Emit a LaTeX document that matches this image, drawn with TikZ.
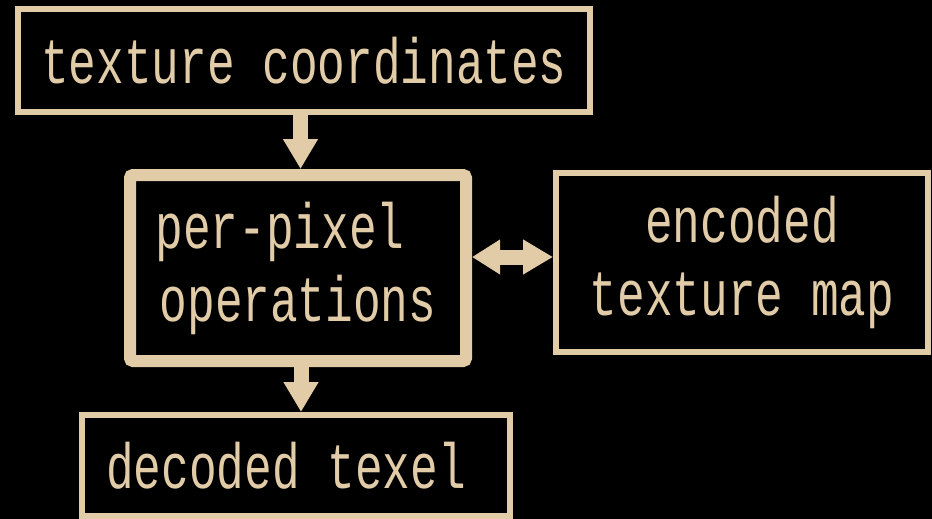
\documentclass[tikz,border=0pt]{standalone}
\usepackage{fontspec}
\newfontfamily\lblfont[FakeStretch=0.72]{Liberation Mono}
\usetikzlibrary{arrows.meta}
\definecolor{beige}{HTML}{E2CCA8}
\tikzset{
  box/.style={draw=beige, line width=6pt, fill=black, text=beige, inner sep=0pt,
    font=\lblfont\fontsize{64}{73}\selectfont, align=center},
  bigbox/.style={box, line width=12pt, rounded corners=3pt},
  flow/.style={draw=beige, line width=15pt,
    -{Triangle[width=33pt 0 0, length=30pt 0 0]}},
  dflow/.style={draw=beige, line width=15pt,
    {Triangle[width=33pt 0 0, length=28pt 0 0]}-{Triangle[width=33pt 0 0, length=30pt 0 0]}}
}
\begin{document}
\begin{tikzpicture}[x=1pt, y=-1pt]
  \fill[black] (0,0) rectangle (932,519);
  \useasboundingbox (0,0) rectangle (932,519);
  \node[box, minimum width=572pt, minimum height=103pt] (tc) at (304,60.5) {\raisebox{-3pt}{texture coordinates}};
  \node[bigbox, minimum width=336pt, minimum height=186pt] (pp) at (298,268) {per-pixel\hspace*{36pt}\\operations};
  \node[box, minimum width=372pt, minimum height=179pt] (em) at (742,262.5) {encoded\\texture map};
  \node[box, minimum width=428pt, minimum height=101pt] (dt) at (296,465.5) {decoded texel\hspace*{20pt}};
  \draw[flow] (tc.south -| 300.5,0) -- (pp.north -| 300.5,0);
  \draw[flow] (pp.south -| 301,0) -- (dt.north -| 301,0);
  \draw[dflow] (pp.east |- 0,257) -- (em.west |- 0,257);
\end{tikzpicture}
\end{document}
